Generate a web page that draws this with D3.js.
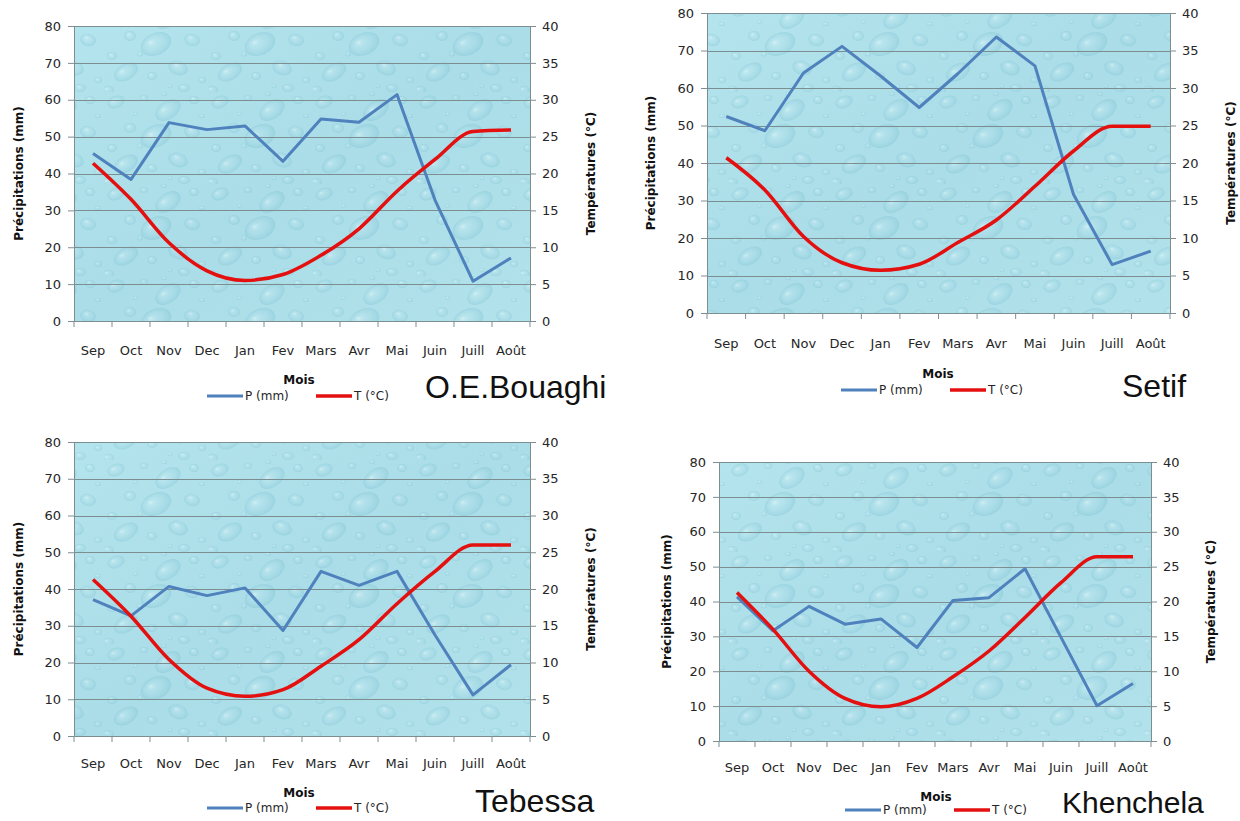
<!DOCTYPE html>
<html>
<head>
<meta charset="utf-8">
<script src="https://cdn.jsdelivr.net/npm/d3@7"></script>
<style>
  html, body { margin: 0; padding: 0; background: #ffffff; }
  svg { display: block; }
</style>
</head>
<body>
<svg id="chart" width="1240" height="821"></svg>
<script>
// Monthly climate data (hydrological year Sep → Août)
const months = ["Sep", "Oct", "Nov", "Dec", "Jan", "Fev", "Mars", "Avr", "Mai", "Juin", "Juill", "Août"];

const precipBouaghi = [45.4, 38.4, 53.8, 51.9, 52.9, 43.3, 54.8, 53.9, 61.4, 32.8, 10.8, 17.1];
const tempBouaghi   = [21.4, 16.5, 10.6, 6.8, 5.5, 6.3, 8.9, 12.5, 17.6, 21.9, 25.7, 25.9];

const precipSetif = [52.4, 48.6, 64.0, 71.1, 63.2, 54.8, 63.8, 73.6, 65.9, 31.6, 12.9, 16.5];
const tempSetif   = [20.7, 16.4, 10.2, 6.7, 5.7, 6.5, 9.4, 12.4, 16.9, 21.6, 24.9, 24.9];

const precipTebessa = [37.1, 32.7, 40.7, 38.2, 40.3, 28.7, 44.8, 41.0, 44.8, 27.5, 11.2, 19.4];
const tempTebessa   = [21.3, 16.3, 10.4, 6.5, 5.4, 6.3, 9.5, 13.1, 18.0, 22.4, 26.0, 26.0];

const precipKhenchela = [41.3, 31.6, 38.6, 33.5, 35.0, 26.8, 40.3, 41.1, 49.4, 29.7, 10.1, 16.5];
const tempKhenchela   = [21.3, 16.0, 10.0, 6.1, 4.9, 6.1, 9.2, 12.9, 17.7, 22.7, 26.4, 26.4];

const precipTicks = [0, 10, 20, 30, 40, 50, 60, 70, 80];
const tempTicks   = [0, 5, 10, 15, 20, 25, 30, 35, 40];

const stations = ["O.E.Bouaghi", "Setif", "Tebessa", "Khenchela"];
const precipSeries = [precipBouaghi, precipSetif, precipTebessa, precipKhenchela];
const tempSeries   = [tempBouaghi, tempSetif, tempTebessa, tempKhenchela];

// Placement of each of the four chart panels on the page
const layouts = [
  { left: 74,  right: 530,  top: 26,  bottom: 321, monthY: 355, titleL: 19,  titleR: 591,  legX: 207, legY: 396, moisX: 299, moisY: 384, nameX: 425,  nameY: 398, nameSize: 32 },
  { left: 707, right: 1170, top: 13,  bottom: 313, monthY: 348, titleL: 651, titleR: 1231, legX: 841, legY: 390, moisX: 938, moisY: 378, nameX: 1122, nameY: 397, nameSize: 32 },
  { left: 74,  right: 530,  top: 442, bottom: 736, monthY: 768, titleL: 19,  titleR: 591,  legX: 207, legY: 808, moisX: 299, moisY: 797, nameX: 475,  nameY: 812, nameSize: 32 },
  { left: 719, right: 1151, top: 462, bottom: 741, monthY: 772, titleL: 667, titleR: 1211, legX: 845, legY: 810, moisX: 936, moisY: 801, nameX: 1062, nameY: 813, nameSize: 30 }
];

const colorP = "#4f81bd";
const colorT = "#e4100f";
const gridColor = "#7d8e91";
const textColor = "#262626";
const tickFont = "DejaVu Sans, Verdana, sans-serif";

const svg = d3.select("#chart");
const defs = svg.append("defs");

// Water-drop texture used as the plot-area fill
const drop = defs.append("radialGradient").attr("id", "drop")
  .attr("cx", "0.5").attr("cy", "0.5").attr("r", "0.5")
  .attr("fx", "0.35").attr("fy", "0.32");
drop.append("stop").attr("offset", "0").attr("stop-color", "#ffffff").attr("stop-opacity", 0.45);
drop.append("stop").attr("offset", "0.3").attr("stop-color", "#d6f2f7").attr("stop-opacity", 0.15);
drop.append("stop").attr("offset", "0.75").attr("stop-color", "#86c6d5").attr("stop-opacity", 0.18);
drop.append("stop").attr("offset", "1").attr("stop-color", "#6bb7c8").attr("stop-opacity", 0.3);

const bgGrad = defs.append("linearGradient").attr("id", "bgGrad")
  .attr("x1", "0").attr("y1", "0").attr("x2", "1").attr("y2", "1");
bgGrad.append("stop").attr("offset", "0").attr("stop-color", "#b4e4ed");
bgGrad.append("stop").attr("offset", "0.5").attr("stop-color", "#aadde8");
bgGrad.append("stop").attr("offset", "1").attr("stop-color", "#b2e2eb");

const tile = defs.append("pattern").attr("id", "drops")
  .attr("patternUnits", "userSpaceOnUse")
  .attr("width", 104).attr("height", 92);
// droplet layout inside one tile: [cx, cy, rx, ry, angle]
const dropShapes = [
  [12, 10, 9, 6, -20], [40, 6, 4, 3, 0], [64, 18, 14, 9, -35], [90, 8, 5, 4, 10],
  [26, 36, 6, 5, 0], [52, 44, 16, 11, -25], [88, 40, 8, 6, 15], [8, 56, 5, 4, 0],
  [22, 72, 13, 8, -30], [48, 76, 5, 4, 0], [74, 68, 10, 7, 20], [98, 80, 4, 3, 0],
  [36, 54, 3, 2.5, 0], [80, 88, 6, 4, 0], [60, 2, 3, 2, 0], [4, 90, 6, 4, 0],
  [98, 24, 3, 2, 0], [32, 22, 2.5, 2, 0], [66, 86, 2.5, 2, 0]
];
tile.selectAll("ellipse").data(dropShapes).join("ellipse")
  .attr("transform", d => `translate(${d[0]},${d[1]}) rotate(${d[4]})`)
  .attr("rx", d => d[2]).attr("ry", d => d[3])
  .attr("fill", "url(#drop)");

const monthFont = 13;

stations.forEach((name, i) => {
  const L = layouts[i];
  const P = precipSeries[i];
  const T = tempSeries[i];
  const g = svg.append("g");

  const x = d3.scaleBand().domain(months).range([L.left, L.right]).paddingInner(0).paddingOuter(0);
  const yP = d3.scaleLinear().domain([0, 80]).range([L.bottom, L.top]);
  const yT = d3.scaleLinear().domain([0, 40]).range([L.bottom, L.top]);

  // plot area
  g.append("rect")
    .attr("x", L.left).attr("y", L.top)
    .attr("width", L.right - L.left).attr("height", L.bottom - L.top)
    .attr("fill", "url(#bgGrad)");
  g.append("rect")
    .attr("x", L.left).attr("y", L.top)
    .attr("width", L.right - L.left).attr("height", L.bottom - L.top)
    .attr("fill", "url(#drops)");

  // horizontal gridlines
  g.append("g").selectAll("line").data(precipTicks.slice(1)).join("line")
    .attr("x1", L.left).attr("x2", L.right)
    .attr("y1", d => Math.round(yP(d)) + 0.5).attr("y2", d => Math.round(yP(d)) + 0.5)
    .attr("stroke", gridColor).attr("stroke-width", 1);

  // left axis (precipitation)
  const axL = g.append("g").attr("transform", `translate(${L.left},0)`)
    .call(d3.axisLeft(yP).tickValues(precipTicks).tickSize(6).tickPadding(7));
  // right axis (temperature)
  const axR = g.append("g").attr("transform", `translate(${L.right},0)`)
    .call(d3.axisRight(yT).tickValues(tempTicks).tickSize(6).tickPadding(6));
  // bottom axis with ticks at the category boundaries
  const axB = g.append("g").attr("transform", `translate(0,${L.bottom})`)
    .call(d3.axisBottom(x).tickSize(0).tickFormat(""));
  const bounds = d3.range(months.length + 1).map(k => L.left + k * x.bandwidth());
  axB.selectAll("line.bound").data(bounds).join("line").attr("class", "bound")
    .attr("x1", d => d).attr("x2", d => d).attr("y1", 0).attr("y2", 6)
    .attr("stroke", gridColor);

  [axL, axR, axB].forEach(a => {
    a.select(".domain").attr("stroke", gridColor);
    a.selectAll(".tick line").attr("stroke", gridColor);
    a.selectAll(".tick text").attr("fill", textColor)
      .style("font-family", tickFont).style("font-size", "13px");
  });

  // month labels
  g.append("g").selectAll("text").data(months).join("text")
    .attr("x", d => x(d) + x.bandwidth() / 2)
    .attr("y", L.monthY)
    .attr("text-anchor", "middle")
    .style("font-family", tickFont).style("font-size", monthFont + "px")
    .attr("fill", textColor)
    .text(d => d);

  // axis titles
  const midY = (L.top + L.bottom) / 2;
  g.append("text")
    .attr("transform", `translate(${L.titleL},${midY}) rotate(-90)`)
    .attr("text-anchor", "middle").attr("dy", "0.35em")
    .style("font-family", tickFont).style("font-size", "12px").style("font-weight", "bold")
    .attr("fill", "#111").text("Précipitations (mm)");
  g.append("text")
    .attr("transform", `translate(${L.titleR},${midY}) rotate(-90)`)
    .attr("text-anchor", "middle").attr("dy", "0.35em")
    .style("font-family", tickFont).style("font-size", "12px").style("font-weight", "bold")
    .attr("fill", "#111").text("Températures (°C)");

  // series
  const lineP = d3.line().x((d, k) => x(months[k]) + x.bandwidth() / 2).y(d => yP(d));
  const lineT = d3.line().x((d, k) => x(months[k]) + x.bandwidth() / 2).y(d => yT(d))
    .curve(d3.curveMonotoneX);
  g.append("path").datum(P).attr("d", lineP)
    .attr("fill", "none").attr("stroke", colorP).attr("stroke-width", 3)
    .attr("stroke-linejoin", "round");
  g.append("path").datum(T).attr("d", lineT)
    .attr("fill", "none").attr("stroke", colorT).attr("stroke-width", 3.5)
    .attr("stroke-linejoin", "round");

  // legend
  g.append("line").attr("x1", L.legX).attr("x2", L.legX + 36)
    .attr("y1", L.legY).attr("y2", L.legY)
    .attr("stroke", colorP).attr("stroke-width", 3);
  g.append("text").attr("x", L.legX + 38).attr("y", L.legY + 4)
    .style("font-family", tickFont).style("font-size", "12px")
    .attr("fill", textColor).text("P (mm)");
  g.append("line").attr("x1", L.legX + 109).attr("x2", L.legX + 145)
    .attr("y1", L.legY).attr("y2", L.legY)
    .attr("stroke", colorT).attr("stroke-width", 3.5);
  g.append("text").attr("x", L.legX + 147).attr("y", L.legY + 4)
    .style("font-family", tickFont).style("font-size", "12px")
    .attr("fill", textColor).text("T (°C)");

  // x-axis title
  g.append("text").attr("x", L.moisX).attr("y", L.moisY)
    .attr("text-anchor", "middle")
    .style("font-family", tickFont).style("font-size", "12px").style("font-weight", "bold")
    .attr("fill", "#111").text("Mois");

  // station name
  g.append("text").attr("x", L.nameX).attr("y", L.nameY)
    .style("font-family", "Liberation Sans, Arial, sans-serif").style("font-size", L.nameSize + "px")
    .attr("fill", "#111").text(name);
});
</script>
</body>
</html>
